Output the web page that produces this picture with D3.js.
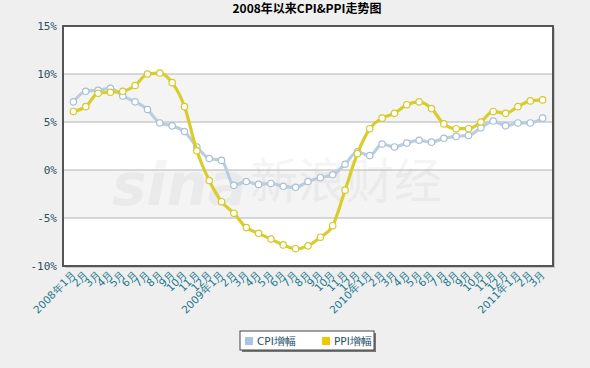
<!DOCTYPE html>
<html><head><meta charset="utf-8">
<script src="https://cdn.jsdelivr.net/npm/d3@7/dist/d3.min.js"></script>
<style>body{margin:0;background:#efefef;}svg{display:block;}</style>
</head><body>
<svg id="c" width="590" height="368"></svg>
<script>
const months = ["2008年1月","2月","3月","4月","5月","6月","7月","8月","9月","10月","11月","12月",
"2009年1月","2月","3月","4月","5月","6月","7月","8月","9月","10月","11月","12月",
"2010年1月","2月","3月","4月","5月","6月","7月","8月","9月","10月","11月","12月",
"2011年1月","2月","3月"];
const cpi = [7.1,8.2,8.3,8.5,7.7,7.1,6.3,4.9,4.6,4.0,2.4,1.2,
1.0,-1.6,-1.2,-1.5,-1.4,-1.7,-1.8,-1.2,-0.8,-0.5,0.6,1.9,
1.5,2.7,2.4,2.8,3.1,2.9,3.3,3.5,3.6,4.4,5.1,4.6,
4.9,4.9,5.4];
const ppi = [6.1,6.6,8.0,8.1,8.2,8.8,10.0,10.1,9.1,6.6,2.0,-1.1,
-3.3,-4.5,-6.0,-6.6,-7.2,-7.8,-8.2,-7.9,-7.0,-5.8,-2.1,1.7,
4.3,5.4,5.9,6.8,7.1,6.4,4.8,4.3,4.3,5.0,6.1,5.9,
6.6,7.2,7.3];
const yTicks = [-10,-5,0,5,10,15];
const seriesNames = ["CPI增幅","PPI增幅"];
const title = "2008年以来CPI&PPI走势图";

const svg = d3.select("#c");
const L=63,R=553,T=26,B=266;
const x = d3.scalePoint().domain(months.map((d,i)=>i)).range([L,R]).padding(0.84);
const y = d3.scaleLinear().domain([-10,15]).range([B,T]);

svg.append("rect").attr("width",590).attr("height",368).attr("fill","#efefef");
// title
svg.append("text").attr("x",307).attr("y",13).attr("text-anchor","middle")
  .attr("font-family","'Noto Sans CJK SC'").attr("font-weight","bold").attr("font-size",12)
  .attr("fill","#000").text(title);

// frame shadow
svg.append("rect").attr("x",L+2).attr("y",T+2).attr("width",R-L).attr("height",B-T).attr("fill","#c8c8c8");
svg.append("rect").attr("x",L).attr("y",T).attr("width",R-L).attr("height",B-T).attr("fill","#fff");
// bands
for(let i=0;i<yTicks.length-1;i++){
  if(i%2===1 || i===1){}
}
[[5,10],[-5,0]].forEach(b=>{
  svg.append("rect").attr("x",L).attr("y",y(b[1])).attr("width",R-L).attr("height",y(b[0])-y(b[1])).attr("fill","#f4f4f4");
});
// watermark
svg.append("text").attr("x",112).attr("y",205).attr("font-family","'DejaVu Sans'").attr("font-style","italic")
  .attr("font-weight","bold").attr("font-size",58).attr("fill","#000").attr("opacity",0.035).text("sina");
svg.append("text").attr("x",250).attr("y",198).attr("font-family","'Noto Sans CJK SC'")
  .attr("font-size",48).attr("fill","#000").attr("opacity",0.035).text("新浪财经");
// gridlines
svg.append("g").selectAll("line").data(yTicks.filter(d=>d>-10&&d<15)).join("line")
  .attr("x1",L).attr("x2",R).attr("y1",d=>y(d)).attr("y2",d=>y(d)).attr("stroke","#b4b4b4").attr("stroke-width",1);
// frame border
svg.append("rect").attr("x",L).attr("y",T).attr("width",R-L).attr("height",B-T).attr("fill","none")
  .attr("stroke","#555").attr("stroke-width",2);

// y axis labels
const yAxis = d3.axisLeft(y).tickValues(yTicks).tickFormat(d=>d+"%").tickSize(0).tickPadding(6);
const ya = svg.append("g").attr("transform",`translate(${L},0)`).call(yAxis);
ya.select(".domain").remove();
ya.selectAll("text").attr("font-family","'DejaVu Sans Mono'").attr("font-size",11).attr("fill","#2e4f5e");

// x axis labels
const xAxis = d3.axisBottom(x).tickFormat(i=>months[i]).tickSize(0).tickPadding(0);
const xa = svg.append("g").attr("transform",`translate(0,${B})`).call(xAxis);
xa.select(".domain").remove();
xa.selectAll("text").attr("font-family","'DejaVu Sans'").attr("font-size",10.5).attr("fill","#21788e")
  .attr("text-anchor","end").attr("dy",0).attr("transform","translate(3,9) rotate(-45)");

// lines
const line = d3.line().x((d,i)=>x(i)).y(d=>y(d)).curve(d3.curveMonotoneX);
const series = [{v:cpi,c:"#b9cee0",m:"#a9c0d4"},{v:ppi,c:"#d9cd2e",m:"#d6c92a"}];
series.forEach(s=>{
  svg.append("path").datum(s.v).attr("d",line).attr("fill","none").attr("stroke",s.c).attr("stroke-width",3.2)
    .attr("stroke-linejoin","round");
  svg.append("g").selectAll("circle").data(s.v).join("circle")
    .attr("cx",(d,i)=>x(i)).attr("cy",d=>y(d)).attr("r",3.2).attr("fill","#fff").attr("stroke",s.m).attr("stroke-width",1.2);
});

// legend
const lg = svg.append("g");
lg.append("rect").attr("x",242).attr("y",333).attr("width",134).attr("height",19).attr("fill","#777");
lg.append("rect").attr("x",240).attr("y",331).attr("width",134).attr("height",19).attr("fill","#fff").attr("stroke","#444").attr("stroke-width",1);
const legColors = ["#a9c5e6","#f0c800"];
seriesNames.forEach((n,i)=>{
  const gx = 245 + i*77;
  lg.append("rect").attr("x",gx).attr("y",337).attr("width",8).attr("height",8).attr("fill",legColors[i]);
  lg.append("text").attr("x",gx+12).attr("y",345).attr("font-family","'DejaVu Sans'").attr("font-size",10.5)
    .attr("fill","#1f5068").text(n);
});
</script>
</body></html>
